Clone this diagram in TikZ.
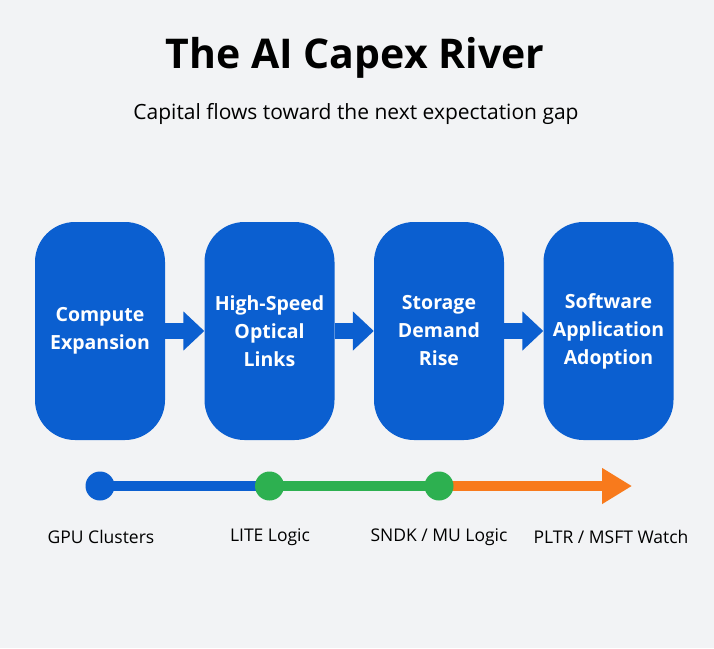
\documentclass[tikz,border=0pt]{standalone}
\usepackage{fontspec}
\setmainfont{Open Sans}
\usetikzlibrary{arrows.meta}
\usetikzlibrary{positioning}
\usetikzlibrary{calc}
\definecolor{riverblue}{RGB}{11,95,208}
\definecolor{rivergreen}{RGB}{45,176,80}
\definecolor{riverorange}{RGB}{248,122,28}
\definecolor{paper}{RGB}{242,243,245}

\begin{document}
\begin{tikzpicture}[x=1pt,y=-1pt,
  stage/.style={rectangle,rounded corners=40pt,fill=riverblue,minimum width=130pt,minimum height=218pt,
    text=white,font=\fontsize{19.5}{28}\selectfont\bfseries,align=center,inner sep=0pt},
  flow/.style={riverblue,line width=16pt,-{Triangle[length=21pt,width=38pt]}},
  dot/.style={circle,minimum size=29pt,inner sep=0pt},
  tag/.style={font=\fontsize{17.5}{20}\selectfont}]
\fill[paper](0,0)rectangle(714,648);
\useasboundingbox (0,0) rectangle (714,648);

\node[font=\fontsize{41}{48}\selectfont\bfseries] (title) at (355,58){The AI Capex River};
\node[font=\fontsize{21}{25}\selectfont] (sub) at (356,114){Capital flows toward the next expectation gap};

\node[stage] (compute) at (100,331){Compute\\Expansion};
\node[stage] (optical) at (269.5,331){High-Speed\\Optical\\Links};
\node[stage] (storage) at (439,331){Storage\\Demand\\Rise};
\node[stage] (software) at (608.5,331){Software\\Application\\Adoption};

\draw[flow](compute.east)--(optical.west);
\draw[flow](optical.east)--(storage.west);
\draw[flow](storage.east)--(software.west);

% the river line
\coordinate (mouth) at (632,486);
\coordinate (gpu) at (100,486);
\coordinate (lite) at (269.5,486);
\coordinate (sndk) at (439,486);
\draw[riverblue,line width=10pt](gpu)--(lite);
\draw[rivergreen,line width=10pt](lite)--(sndk);
\draw[riverorange,line width=10pt,-{Triangle[length=30pt,width=34pt]}](sndk)--(mouth);
\node[dot,fill=riverblue] (d1) at (gpu){};
\node[dot,fill=rivergreen] (d2) at (lite){};
\node[dot,fill=rivergreen] (d3) at (sndk){};

\node[tag] (l1) at (101,537){GPU Clusters};
\node[tag] (l2) at (270,537){LITE Logic};
\node[tag] (l3) at (439,537){SNDK / MU Logic};
\node[tag] (l4) at (611,537){PLTR / MSFT Watch};
\end{tikzpicture}
\end{document}
